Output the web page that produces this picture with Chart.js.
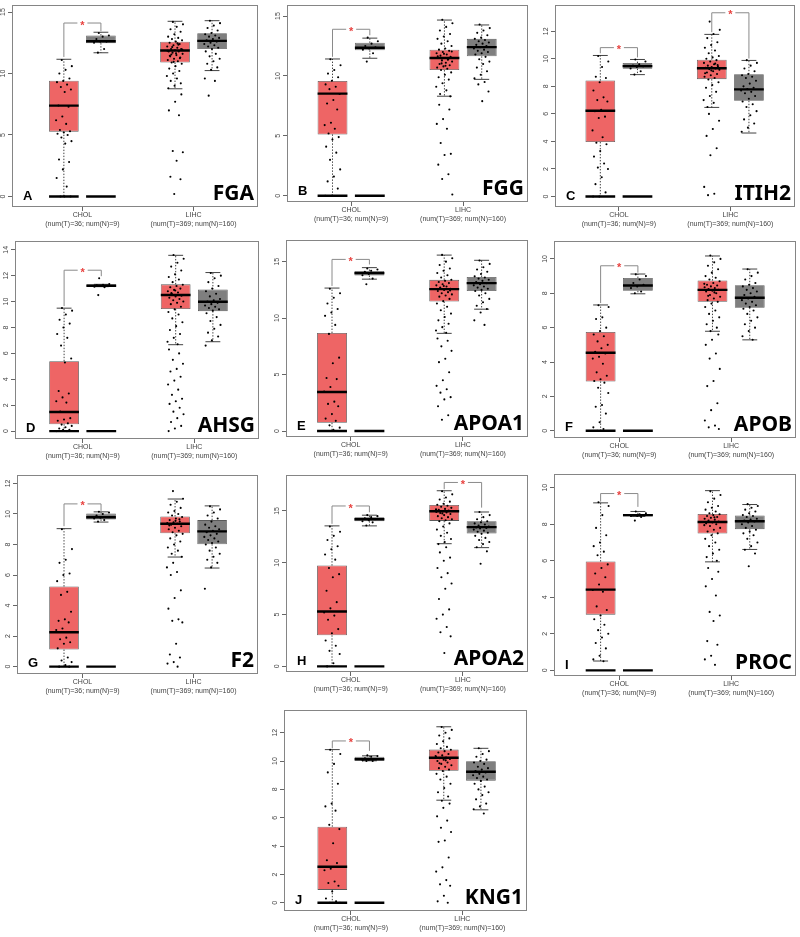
<!DOCTYPE html>
<html><head><meta charset="utf-8">
<script src="https://cdn.jsdelivr.net/npm/chart.js@4.4.1/dist/chart.umd.min.js"></script>
<style>
html,body{margin:0;padding:0;background:#fff;width:800px;height:937px;overflow:hidden;position:relative}
canvas{position:absolute}
</style></head><body>
<script>
// ---------- DATA ----------
const genes   = ['FGA','FGG','ITIH2','AHSG','APOA1','APOB','F2','APOA2','PROC','KNG1'];
const letters = ['A','B','C','D','E','F','G','H','I','J'];
const groups  = ['CHOL T','CHOL N','LIHC T','LIHC N'];
const groupPos = [1, 2, 4, 5];
const xTickPos = [1.5, 4.5];
const xLabels = [['CHOL','(num(T)=36; num(N)=9)'], ['LIHC','(num(T)=369; num(N)=160)']];
const baseLineGroups = [0, 1];   // groups with the black bar at value 0
const baseLineValue = 0;

// per panel: [CHOL T, CHOL N, LIHC T, LIHC N]
const boxQ1 = [
  [5.27,12.47,10.89,11.99],[5.12,12.14,10.49,11.64],[3.96,9.28,8.52,6.95],[0.53,11.15,9.42,9.26],
  [0.73,13.77,11.46,12.4],[2.87,8.14,7.51,7.16],[1.12,9.64,8.74,8.02],[3.0,14.01,14.04,12.83],
  [3.05,8.43,7.49,7.73],[0.91,10.02,9.32,8.62]];
const boxMed = [
  [7.39,12.63,11.88,12.66],[8.53,12.36,11.5,12.41],[6.23,9.47,9.31,7.78],[1.48,11.22,10.51,9.98],
  [3.45,13.98,12.57,13.1],[4.54,8.45,8.2,7.74],[2.25,9.79,9.36,8.86],[5.3,14.2,14.97,13.44],
  [4.42,8.5,8.12,8.16],[2.54,10.13,10.23,9.25]];
const boxQ3 = [
  [9.41,13.09,12.58,13.28],[9.58,12.77,12.19,13.1],[8.42,9.69,9.93,8.88],[5.4,11.33,11.33,10.94],
  [8.68,14.18,13.39,13.65],[5.75,8.89,8.74,8.47],[5.25,10.03,9.84,9.6],[9.73,14.39,15.58,14.01],
  [5.96,8.56,8.56,8.48],[5.37,10.3,10.81,9.99]];
const whiskLo = [
  [0,11.69,8.76,10.24],[0,11.48,8.31,9.72],[0,8.85,6.47,4.61],[0,11.15,6.67,6.9],
  [0,13.45,8.65,10.79],[0,7.97,5.79,5.29],[0,9.47,7.18,6.46],[0,13.56,11.84,11.46],
  [0.51,8.43,5.94,6.62],[0,10.02,7.24,6.56]];
const whiskHi = [
  [11.16,13.36,14.25,14.3],[11.42,13.16,14.67,14.26],[10.24,9.95,11.77,9.88],[9.49,11.33,13.57,12.24],
  [12.66,14.47,15.58,15.12],[7.32,9.12,10.17,9.41],[9.04,10.14,10.98,10.53],[13.56,14.59,16.95,14.9],
  [9.17,8.7,9.84,9.08],[10.81,10.37,12.42,10.9]];

// significance brackets: [left group, right group, level, left end, right end]
const sigBrackets = [
  [[0,1,14.11,11.35,13.44]],
  [[0,1,13.9,11.6,13.4]],
  [[0,1,10.81,10.4,10.1],[2,3,13.34,11.93,10.02]],
  [[0,1,12.42,9.65,11.96]],
  [[0,1,15.2,12.85,14.75]],
  [[0,1,9.6,7.43,9.2]],
  [[0,1,10.66,9.2,10.2]],
  [[0,1,15.48,13.76,14.87],[2,3,17.75,17.1,15.32]],
  [[0,1,9.68,9.24,8.95]],
  [[0,1,11.42,10.9,10.72]]];

const yMin = [-0.86,-0.52,-0.76,-0.61,-0.53,-0.42,-0.48,-0.54,-0.31,-0.58];
const yMax = [15.56,15.91,13.89,14.66,16.9,11.03,12.54,18.45,10.74,13.59];
const yTicks = [
  [0,5,10,15],[0,5,10,15],[0,2,4,6,8,10,12],[0,2,4,6,8,10,12,14],[0,5,10,15],
  [0,2,4,6,8,10],[0,2,4,6,8,10,12],[0,5,10,15],[0,2,4,6,8,10],[0,2,4,6,8,10,12]];

// individual samples
const ptsFGA = [
  [11.1,10.6,10.3,10.0,9.6,9.4,9.3,9.1,8.9,8.7,8.5,7.4,7.3,6.5,6.2,5.9,5.4,5.3,5.2,5.1,5.0,4.8,4.5,4.3,3.0,2.8,2.2,1.5,0.8,0,0,0],
  [13.3,13.1,13.0,12.8,12.6,12.6,12.5,12.0,11.7],
  [14.2,14.0,13.8,13.6,13.4,13.2,13.0,12.9,12.8,12.7,12.6,12.5,12.4,12.3,12.2,12.1,12.0,12.0,11.9,11.8,11.8,11.7,11.6,11.5,11.4,11.3,11.2,11.1,11.0,10.9,10.8,10.6,10.4,10.2,10.0,9.8,9.6,9.4,9.2,9.0,8.8,12.35,12.15,11.95,11.65,11.45,11.25,10.95,11.85,12.45,11.55,8.3,7.7,7.0,6.6,3.7,3.6,2.9,1.6,1.4,0.2],
  [14.3,14.1,13.9,13.7,13.5,13.3,13.2,13.1,13.0,12.9,12.8,12.7,12.6,12.5,12.4,12.3,12.2,12.1,12.0,11.8,11.6,11.4,11.2,11.0,10.8,10.5,10.3,9.6,9.4,8.2]];
const ptsFGG = [
  [11.4,10.9,10.5,10.2,9.9,9.6,9.3,9.1,8.9,8.5,8.0,7.7,7.2,6.1,5.9,5.6,5.2,4.9,4.7,4.1,3.6,3.0,2.2,1.6,1.2,0.6,0,0],
  [13.2,12.9,12.7,12.5,12.4,12.3,12.2,11.9,11.2],
  [14.7,14.4,14.1,13.8,13.5,13.3,13.1,12.9,12.7,12.5,12.3,12.2,12.1,12.0,11.9,11.8,11.7,11.6,11.5,11.5,11.4,11.3,11.2,11.1,11.0,10.9,10.8,10.7,10.6,10.5,10.3,10.1,9.9,9.7,9.4,9.1,8.8,8.5,8.3,11.85,11.65,11.35,11.05,12.05,10.85,7.6,7.2,6.4,6.0,5.6,4.4,3.5,3.4,2.6,1.8,1.4,0.1],
  [14.3,14.0,13.8,13.6,13.4,13.2,13.1,13.0,12.9,12.8,12.7,12.6,12.5,12.4,12.3,12.2,12.1,12.0,11.9,11.8,11.6,11.4,11.2,11.0,10.7,10.4,10.1,9.8,9.5,9.3,8.7,7.9]];
const ptsITIH2 = [
  [10.2,9.8,9.4,8.7,8.6,8.3,7.7,7.2,7.0,6.9,6.3,6.2,5.8,5.7,4.8,4.3,3.9,3.8,3.3,2.9,2.4,2.1,2.0,1.4,0.9,0.3,0,0],
  [9.95,9.8,9.6,9.5,9.45,9.4,9.3,9.1,8.85],
  [12.7,12.1,11.8,11.5,11.2,11.0,10.8,10.6,10.4,10.2,10.1,10.0,9.9,9.8,9.7,9.6,9.5,9.45,9.4,9.35,9.3,9.25,9.2,9.1,9.0,8.9,8.8,8.7,8.6,8.5,8.3,8.1,7.9,7.6,7.3,7.0,6.8,6.5,9.55,9.15,8.95,9.65,6.0,5.5,4.9,4.4,3.5,3.0,0.7,0.2,0.1],
  [9.9,9.7,9.5,9.3,9.1,8.9,8.8,8.7,8.6,8.4,8.2,8.0,7.9,7.8,7.7,7.6,7.5,7.3,7.1,6.9,6.7,6.5,6.2,5.9,5.6,5.3,5.0,4.7]];
const ptsAHSG = [
  [9.5,9.3,9.0,8.6,8.3,8.0,7.5,7.2,6.6,5.6,5.3,3.1,2.9,2.6,2.3,2.2,1.5,1.0,0.9,0.8,0.6,0.5,0.4,0.3,0.2,0.1,0.1,0,0],
  [11.8,11.35,11.3,11.25,11.2,11.2,11.15,11.1,10.5],
  [13.6,13.3,13.0,12.7,12.4,12.1,11.9,11.7,11.5,11.3,11.2,11.1,11.0,10.9,10.8,10.7,10.6,10.5,10.4,10.3,10.2,10.1,10.0,9.9,9.8,9.6,9.4,9.2,9.0,8.7,8.4,8.1,7.8,7.5,7.2,6.9,6.7,10.65,10.45,10.85,6.3,6.0,5.5,5.2,4.8,4.6,4.2,3.9,3.6,3.2,2.8,2.5,2.3,2.1,1.8,1.5,1.3,1.0,0.7,0.4,0.2,0.0],
  [12.2,12.0,11.8,11.5,11.2,11.0,10.8,10.6,10.4,10.2,10.1,10.0,9.9,9.8,9.7,9.6,9.5,9.4,9.3,9.1,8.8,8.5,8.2,7.9,7.6,7.3,7.0,6.6]];
const ptsAPOA1 = [
  [12.6,12.2,11.8,11.3,10.8,10.5,10.2,9.4,8.6,6.5,6.0,4.7,4.6,3.9,3.5,2.6,2.4,2.2,1.5,1.1,0.9,0.5,0.3,0.1,0],
  [14.4,14.3,14.2,14.1,14.0,13.9,13.8,13.5,13.0],
  [15.6,15.3,15.0,14.7,14.4,14.2,14.0,13.8,13.6,13.4,13.3,13.2,13.1,13.0,12.9,12.8,12.7,12.6,12.5,12.4,12.3,12.2,12.1,12.0,11.9,11.7,11.5,11.3,11.0,10.7,10.4,10.1,9.8,9.5,9.2,8.9,8.7,12.65,12.45,12.85,8.2,8.0,7.5,7.1,6.4,6.1,5.2,4.5,4.0,3.7,3.4,3.0,2.8,2.2,1.4,1.0],
  [15.1,14.8,14.5,14.3,14.1,13.9,13.7,13.6,13.5,13.4,13.3,13.2,13.1,13.0,12.9,12.8,12.7,12.6,12.5,12.4,12.2,12.0,11.7,11.4,11.1,10.8,10.5,9.8,9.4]];
const ptsAPOB = [
  [7.3,7.2,6.6,6.5,6.0,5.8,5.6,5.5,5.2,5.0,4.8,4.6,4.5,4.3,4.2,3.9,3.4,3.2,3.0,2.9,2.8,2.5,2.2,1.5,1.4,1.0,0.5,0.2,0.1,0],
  [9.1,9.0,8.8,8.6,8.5,8.4,8.3,8.1,8.0],
  [10.2,10.0,9.8,9.6,9.4,9.2,9.0,8.9,8.8,8.7,8.6,8.5,8.45,8.4,8.35,8.3,8.25,8.2,8.15,8.1,8.0,7.9,7.8,7.7,7.6,7.5,7.4,7.2,7.0,6.8,6.6,6.4,6.2,6.0,5.8,8.55,8.05,7.85,5.6,5.3,5.0,4.5,4.2,3.6,2.9,2.6,1.6,1.2,0.6,0.3,0.2,0.1],
  [9.4,9.2,9.0,8.8,8.6,8.5,8.4,8.3,8.2,8.1,8.0,7.9,7.8,7.7,7.6,7.5,7.4,7.3,7.2,7.1,7.0,6.8,6.6,6.4,6.2,6.0,5.8,5.5,5.3]];
const ptsF2 = [
  [9.0,7.7,7.0,6.8,6.1,6.0,5.6,4.9,4.7,3.6,3.1,3.0,2.9,2.5,2.4,1.9,1.8,1.6,1.5,1.2,0.6,0.4,0.3,0.1,0,0],
  [10.15,10.1,10.0,9.9,9.8,9.75,9.7,9.6,9.5],
  [11.5,11.0,10.8,10.6,10.4,10.2,10.1,10.0,9.9,9.8,9.7,9.6,9.5,9.45,9.4,9.35,9.3,9.2,9.1,9.0,8.9,8.8,8.7,8.6,8.4,8.2,8.0,7.8,7.6,7.4,7.2,9.55,9.25,9.65,6.8,6.5,6.2,6.0,5.0,4.5,3.8,3.1,3.0,2.9,1.5,0.8,0.6,0.3,0.2,0.0],
  [10.5,10.3,10.1,9.9,9.7,9.5,9.3,9.2,9.1,9.0,8.9,8.8,8.7,8.6,8.5,8.4,8.3,8.2,8.1,8.0,7.8,7.6,7.4,7.2,7.0,6.8,6.5,5.1]];
const ptsAPOA2 = [
  [13.5,13.0,12.6,12.2,11.6,11.3,10.8,10.3,9.5,8.9,8.6,7.3,6.2,5.6,5.2,4.9,4.5,3.6,3.2,2.5,2.0,1.5,1.2,0.3,0],
  [14.6,14.5,14.4,14.3,14.2,14.1,14.0,13.9,13.6],
  [16.9,16.6,16.3,16.1,15.9,15.7,15.6,15.5,15.4,15.3,15.2,15.1,15.0,14.95,14.9,14.85,14.8,14.7,14.6,14.5,14.4,14.3,14.2,14.1,14.0,13.8,13.5,13.2,12.9,12.6,12.3,12.0,11.8,15.05,14.75,15.15,11.5,11.0,10.5,10.2,9.5,9.0,8.6,8.0,7.5,6.5,5.5,5.0,4.6,3.8,3.3,2.9,1.3],
  [14.9,14.6,14.4,14.2,14.0,13.9,13.8,13.7,13.6,13.5,13.45,13.4,13.35,13.3,13.2,13.1,13.0,12.9,12.8,12.6,12.4,12.2,12.0,11.8,11.5,11.1,9.9]];
const ptsPROC = [
  [9.2,9.0,8.5,7.8,7.4,7.0,6.8,6.5,6.3,5.8,5.6,5.3,5.1,4.7,4.4,4.3,3.5,3.3,3.0,2.8,2.5,2.2,2.0,1.8,1.5,1.2,0.8,0.6,0.5],
  [8.7,8.6,8.55,8.5,8.5,8.45,8.45,8.4,8.2],
  [9.8,9.6,9.4,9.2,9.0,8.9,8.8,8.7,8.6,8.55,8.5,8.45,8.4,8.35,8.3,8.25,8.2,8.15,8.1,8.05,8.0,7.9,7.8,7.7,7.6,7.5,7.4,7.2,7.0,6.8,6.6,6.4,6.2,6.0,8.12,7.95,8.38,5.6,5.4,5.0,4.6,4.1,3.2,3.0,2.7,1.6,1.4,0.8,0.6,0.3],
  [9.1,9.0,8.9,8.8,8.7,8.6,8.5,8.45,8.4,8.3,8.25,8.2,8.15,8.1,8.0,7.9,7.8,7.7,7.6,7.5,7.4,7.2,7.0,6.8,6.6,6.4,5.7]];
const ptsKNG1 = [
  [10.8,10.5,9.8,9.2,8.4,7.0,6.8,6.5,5.5,5.2,4.2,3.0,2.8,2.4,2.3,1.5,1.4,1.2,0.8,0.3,0.1,0,0],
  [10.4,10.35,10.3,10.2,10.15,10.1,10.05,10.0,10.0],
  [12.4,12.2,12.0,11.8,11.6,11.4,11.2,11.0,10.9,10.8,10.7,10.6,10.5,10.4,10.3,10.25,10.2,10.15,10.1,10.0,9.9,9.8,9.7,9.6,9.5,9.4,9.3,9.1,8.9,8.7,8.4,8.1,7.8,7.5,7.2,10.35,10.05,9.85,7.0,6.7,6.1,5.8,5.3,5.0,4.4,4.3,3.2,2.5,2.2,1.6,1.3,1.2,0.5,0.1,0.0],
  [10.9,10.7,10.5,10.3,10.1,10.0,9.9,9.8,9.6,9.5,9.4,9.3,9.2,9.1,9.0,8.9,8.8,8.7,8.6,8.4,8.2,8.0,7.8,7.6,7.3,7.0,6.8,6.6,6.3]];
const samples = [ptsFGA, ptsFGG, ptsITIH2, ptsAHSG, ptsAPOA1, ptsAPOB, ptsF2, ptsAPOA2, ptsPROC, ptsKNG1];

// ---------- LAYOUT / STYLE ----------
const FRAMES = [
  [12,3,258,207],[287,3,528,202],[555,3,795,207],
  [15,239,259,439],[286,238,528,437],[554,239,796,438],
  [17,473,258,674],[286,473,528,672],[554,472,796,676],
  [284,708,527,911]];
const X_MIN = [-0.4,-0.22,-0.22,-0.32,-0.23,-0.25,-0.27,-0.23,-0.25,-0.3];
const X_MAX = 6.24;
const BOX_COLORS = ['#EE6565','#7F7F7F','#EE6565','#7F7F7F'];
const FONT = "'Liberation Sans', Arial, sans-serif";

function makePlugin(p){
  return {
    id:'boxExtras'+p,
    afterDatasetsDraw(chart){
      const ctx = chart.ctx, ys = chart.scales.y, ca = chart.chartArea;
      const meta = chart.getDatasetMeta(0);
      const Y = v => ys.getPixelForValue(v);
      const line = (x1,y1,x2,y2) => {ctx.beginPath(); ctx.moveTo(x1,y1); ctx.lineTo(x2,y2); ctx.stroke();};
      ctx.save();
      ctx.beginPath(); ctx.rect(ca.left, ca.top, ca.right-ca.left, ca.bottom-ca.top); ctx.clip();
      // whiskers
      meta.data.forEach((bar,i) => {
        const x = bar.x, w = bar.width;
        ctx.strokeStyle = '#111'; ctx.lineWidth = 0.8;
        ctx.setLineDash([1.4,1.6]);
        line(x, Y(boxQ3[p][i]), x, Y(whiskHi[p][i]));
        line(x, Y(boxQ1[p][i]), x, Y(whiskLo[p][i]));
        ctx.setLineDash([]);
        line(x-w/4, Y(whiskHi[p][i]), x+w/4, Y(whiskHi[p][i]));
        line(x-w/4, Y(whiskLo[p][i]), x+w/4, Y(whiskLo[p][i]));
      });
      // base lines at 0
      baseLineGroups.forEach(i => {
        const bar = meta.data[i];
        ctx.strokeStyle = '#000'; ctx.lineWidth = 2.4;
        line(bar.x - bar.width/2, Y(baseLineValue), bar.x + bar.width/2, Y(baseLineValue));
      });
      // jittered samples
      ctx.fillStyle = '#000';
      samples[p].forEach((vals,i) => {
        const bar = meta.data[i];
        vals.forEach((v,k) => {
          const f = ((k*0.6180339887 + 0.37) % 1) - 0.5;
          const x = bar.x + f * bar.width * 0.55;
          ctx.beginPath(); ctx.arc(x, Y(v), 1.05, 0, Math.PI*2); ctx.fill();
        });
      });
      // medians
      meta.data.forEach((bar,i) => {
        ctx.strokeStyle = '#000'; ctx.lineWidth = 2.4;
        line(bar.x - bar.width/2, Y(boxMed[p][i]), bar.x + bar.width/2, Y(boxMed[p][i]));
      });
      ctx.restore();
      // brackets
      ctx.save();
      sigBrackets[p].forEach(([a,b,lev,le,re]) => {
        const xa = meta.data[a].x, xb = meta.data[b].x, xm = (xa+xb)/2, yl = Y(lev);
        ctx.strokeStyle = '#8a8a8a'; ctx.lineWidth = 1;
        ctx.beginPath(); ctx.moveTo(xa, Y(le)); ctx.lineTo(xa, yl); ctx.lineTo(xm-5, yl); ctx.stroke();
        ctx.beginPath(); ctx.moveTo(xm+5, yl); ctx.lineTo(xb, yl); ctx.lineTo(xb, Y(re)); ctx.stroke();
        ctx.fillStyle = '#E8423F'; ctx.font = 'bold 11px ' + FONT;
        ctx.textAlign = 'center'; ctx.textBaseline = 'middle';
        ctx.fillText('*', xm, yl + 2.5);
      });
      // frame
      ctx.strokeStyle = '#858585'; ctx.lineWidth = 1;
      ctx.strokeRect(Math.round(ca.left)+0.5, Math.round(ca.top)+0.5, Math.round(ca.right-ca.left)-1, Math.round(ca.bottom-ca.top)-1);
      // panel letter and gene name
      ctx.fillStyle = '#000'; ctx.textBaseline = 'alphabetic';
      ctx.textAlign = 'left'; ctx.font = '600 13px ' + FONT;
      ctx.fillText(letters[p], ca.left + 11, ca.bottom - 7);
      ctx.textAlign = 'right'; ctx.font = "bold 21px 'Noto Sans', 'Open Sans', sans-serif";
      ctx.fillText(genes[p], ca.right - 4, ca.bottom - 7);
      ctx.restore();
    }
  };
}

genes.forEach((g,p) => {
  const [fl,ft,fr,fb] = FRAMES[p];
  const W = fr - fl + 16, H = fb - ft + 33;
  const cv = document.createElement('canvas');
  cv.width = W; cv.height = H;
  cv.style.width = W+'px'; cv.style.height = H+'px';
  cv.style.left = (fl-12)+'px'; cv.style.top = (ft-3)+'px';
  document.body.appendChild(cv);
  new Chart(cv, {
    type:'bar',
    data:{datasets:[{
      label: g,
      data: groupPos.map((x,i) => ({x:x, y:[boxQ1[p][i], boxQ3[p][i]]})),
      backgroundColor: BOX_COLORS,
      borderColor:'#5a5a5a', borderWidth:0.8, borderSkipped:false,
      categoryPercentage:1, barPercentage:0.8
    }]},
    options:{
      responsive:false, animation:false, devicePixelRatio:1,
      layout:{padding:{top:3,right:4,left:0,bottom:0}},
      plugins:{legend:{display:false}, tooltip:{enabled:false}},
      scales:{
        x:{type:'linear', min:X_MIN[p], max:X_MAX, offset:false,
           afterBuildTicks: ax => { ax.ticks = xTickPos.map(v => ({value:v})); },
           afterFit: ax => { ax.height = 30; },
           ticks:{callback: v => xLabels[xTickPos.indexOf(v)], font:{size:7, family:FONT}, color:'#444', padding:0, maxRotation:0, autoSkip:false},
           grid:{drawOnChartArea:false, tickLength:4, color:'#666', offset:false},
           border:{display:false}},
        y:{type:'linear', min:yMin[p], max:yMax[p],
           afterBuildTicks: ax => { ax.ticks = yTicks[p].map(v => ({value:v})); },
           afterFit: ax => { ax.width = 12; },
           ticks:{minRotation:90, maxRotation:90, crossAlign:'center', font:{size:7, family:FONT}, color:'#444', padding:1, autoSkip:false},
           grid:{drawOnChartArea:false, tickLength:4, color:'#666'},
           border:{display:false}}
      }
    },
    plugins:[makePlugin(p)]
  });
});
</script>
</body></html>
